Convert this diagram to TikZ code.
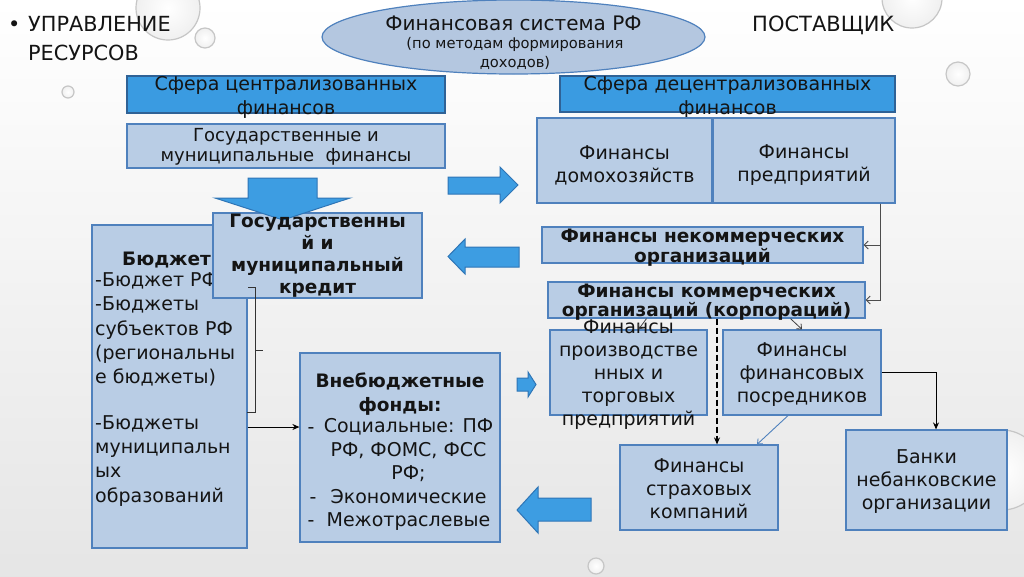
\documentclass[tikz,border=0pt]{standalone}
\usepackage{fontspec}
\setmainfont{DejaVu Sans}
\usetikzlibrary{shapes.geometric,arrows.meta}
\definecolor{bluec}{RGB}{58,155,225}
\definecolor{bbord}{RGB}{47,98,150}
\definecolor{boxc}{RGB}{185,205,229}
\definecolor{bordc}{RGB}{79,129,189}
\definecolor{ellc}{RGB}{180,199,224}
\definecolor{arrc}{RGB}{61,157,226}
\definecolor{arrb}{RGB}{46,117,182}
\definecolor{txtc}{RGB}{20,20,20}
\begin{document}
\begin{tikzpicture}[x=1pt,y=-1pt,
  box/.style={draw=bordc,fill=boxc,line width=1.2pt,inner sep=0pt,rectangle},
  bbox/.style={draw=bbord,fill=bluec,line width=1.2pt,inner sep=0pt,rectangle},
  txt/.style={align=center,inner sep=0pt,text=txtc,font=\fontsize{19}{23}\selectfont},
  btxt/.style={align=center,inner sep=0pt,text=txtc,font=\bfseries\fontsize{18.5}{21}\selectfont},
  head/.style={inner sep=0pt,text=txtc,font=\fontsize{20.8}{29}\selectfont,anchor=base west},
  bigarr/.style={fill=arrc,draw=arrb,line width=1pt},
  thinarr/.style={draw=black!70,line width=0.9pt,-{Straight Barb[length=4pt,width=8pt]}},
  smallarr/.style={draw=black!75,line width=0.8pt,-{Straight Barb[length=4pt,width=7pt]}},
  arr/.style={draw=black,line width=1pt,-{Stealth[length=7pt,width=6pt]}},
  dasharr/.style={draw=black,line width=1.2pt,dash pattern=on 6pt off 3pt,-{Stealth[length=7pt,width=6pt]}},
  bluearr/.style={draw=bordc,line width=0.9pt,-{Straight Barb[length=4pt,width=7pt]}},
  drop/.style={draw=gray!45,line width=1.2pt,inner color=white,outer color=gray!12},
  brk/.style={draw=black!80,line width=0.8pt}]
\useasboundingbox (0,0) rectangle (1024,576);
\fill[top color=white,bottom color=gray!20] (0,0) rectangle (1024,576);
% drops
\draw[drop] (168,8) circle (32);
\draw[drop] (205,38) circle (10);
\draw[drop] (68,92) circle (6);
\draw[drop] (912,-2) circle (30);
\draw[drop] (958,74) circle (12);
\draw[drop] (1002,470) circle (40);
\draw[drop] (596,566) circle (8);
% header texts
\node[head] (bul) at (8,31) {•};
\node[head] (upr1) at (28,31) {УПРАВЛЕНИЕ};
\node[head] (upr2) at (28,60) {РЕСУРСОВ};
\node[head,font=\fontsize{21}{29}\selectfont] (post) at (752,31) {ПОСТАВЩИК};
% ellipse
\node[ellipse,draw=bordc,fill=ellc,line width=1.2pt,minimum width=383pt,minimum height=74pt,inner sep=0pt] (fs) at (513.5,37) {};
\node[txt,font=\fontsize{20}{24}\selectfont] (fs1) at (513.5,23.5) {Финансовая система РФ};
\node[txt,font=\fontsize{14.7}{18.5}\selectfont] (fs2) at (515,53.5) {(по методам формирования\\доходов)};
% top left blocks
\node[bbox,minimum width=318pt,minimum height=37pt] (cen) at (286,94.5) {};
\node[txt,font=\fontsize{19}{24}\selectfont] (tcen) at (286,97) {Сфера централизованных\\финансов};
\node[box,minimum width=318pt,minimum height=44pt] (gm) at (286,146) {};
\node[txt,font=\fontsize{18}{20}\selectfont] (tgm) at (286,147) {Государственные и\\муниципальные\ \ финансы};
% top right blocks
\node[bbox,minimum width=335pt,minimum height=36pt] (dec) at (727.5,94) {};
\node[txt,font=\fontsize{19}{24}\selectfont] (tdec) at (727.5,97) {Сфера децентрализованных\\финансов};
\node[box,minimum width=175pt,minimum height=85pt] (dom) at (624.5,160.5) {};
\node[txt] (tdom) at (624.5,165) {Финансы\\домохозяйств};
\node[box,minimum width=182pt,minimum height=85pt] (pred) at (804,160.5) {};
\node[txt] (tpred) at (804,165) {Финансы\\предприятий};
\node[box,minimum width=321pt,minimum height=36pt] (nek) at (702.5,245) {};
\node[btxt,font=\bfseries\fontsize{18.5}{20}\selectfont] (tnek) at (702.5,248) {Финансы некоммерческих\\организаций};
\node[box,minimum width=317pt,minimum height=36pt] (kom) at (706.5,300) {};
\node[btxt,font=\bfseries\fontsize{18.5}{18.5}\selectfont] (tkom) at (706.5,302) {Финансы коммерческих\\организаций (корпораций)};
\node[box,minimum width=157pt,minimum height=85pt] (prod) at (628.5,372.5) {};
\node[txt] (tprod) at (628.5,375) {Финансы\\производстве\\нных и\\торговых\\предприятий};
\node[box,minimum width=158pt,minimum height=85pt] (posr) at (802,372.5) {};
\node[txt] (tposr) at (802,375) {Финансы\\финансовых\\посредников};
\node[box,minimum width=158pt,minimum height=85pt] (strah) at (699,487.5) {};
\node[txt] (tstrah) at (699,489) {Финансы\\страховых\\компаний};
\node[box,minimum width=161pt,minimum height=100pt] (banki) at (926.5,480) {};
\node[txt] (tbanki) at (926.5,482) {Банки\\небанковские\\организации};
% budget
\node[box,minimum width=155pt,minimum height=323pt] (budg) at (169.5,386.5) {};
\node[btxt,anchor=base west] (tbud0) at (122,265) {Бюджет};
\node[inner sep=0pt,text=txtc,align=left,font=\fontsize{19}{24.3}\selectfont,anchor=base west] (tbud) at (95,502)
  {-Бюджет РФ\\-Бюджеты\\субъектов РФ\\(региональны\\е бюджеты)\\[21pt]-Бюджеты\\муниципальн\\ых\\образований};
% credit
\node[box,minimum width=209pt,minimum height=85pt] (kred) at (317.5,255.5) {};
\fill[bigarr] (248,178) -- (317,178) -- (317,198) -- (350,198) -- (283,220) -- (215,198) -- (248,198) -- cycle;
\node[btxt,font=\bfseries\fontsize{18.5}{22}\selectfont] (tkred) at (317.5,256) {Государственны\\й и\\муниципальный\\кредит};
% extra-budget funds
\node[box,minimum width=200pt,minimum height=189pt] (vneb) at (400,447.5) {};
\node[btxt,font=\bfseries\fontsize{18.5}{23.5}\selectfont,anchor=base] (tvneb) at (400,411) {Внебюджетные\\фонды:};
\node[txt,font=\fontsize{19}{23.5}\selectfont,anchor=base] (tvitems) at (408.5,526.5) {Социальные: ПФ\\РФ, ФОМС, ФСС\\РФ;\\Экономические\\Межотраслевые};
\node[txt,anchor=base] (d1) at (311,433) {-};
\node[txt,anchor=base] (d2) at (313,503) {-};
\node[txt,anchor=base] (d3) at (311,526.5) {-};
% big arrows
\fill[bigarr] (448,177) -- (500,177) -- (500,167) -- (518,185) -- (500,203) -- (500,194) -- (448,194) -- cycle;
\fill[bigarr] (519,247) -- (465,247) -- (465,239) -- (448,256.5) -- (465,274) -- (465,267) -- (519,267) -- cycle;
\fill[bigarr] (517,378) -- (528,378) -- (528,372) -- (536,384.5) -- (528,397) -- (528,391) -- (517,391) -- cycle;
\fill[bigarr] (591,498) -- (538,498) -- (538,487) -- (517,510) -- (538,533) -- (538,521) -- (591,521) -- cycle;
% connectors
\coordinate (px) at (880,0);
\coordinate (dx) at (717,0);
\draw[thinarr] (pred.south -| px) |- (nek.east);
\draw[thinarr] (pred.south -| px) |- (kom.east);
\draw[smallarr] ([xshift=-60pt]kom.south) -- ([xshift=10pt]prod.north);
\draw[smallarr] ([xshift=84pt]kom.south) -- (posr.north);
\draw[dasharr] (kom.south -| dx) -- (dx |- strah.north);
\draw[bluearr] ([xshift=-14pt]posr.south) -- ([xshift=58pt]strah.north);
\draw[arr] (posr.east) -| ([xshift=9.5pt]banki.north);
\draw[arr] ([yshift=20.5pt]vneb.west -| budg.east) -- ([yshift=20.5pt]vneb.west);
% bracket
\draw[brk] (248,287) -- (255,287) -- (255,412) -- (247,412);
\draw[brk] (255,350) -- (263,350);
\end{tikzpicture}
\end{document}
